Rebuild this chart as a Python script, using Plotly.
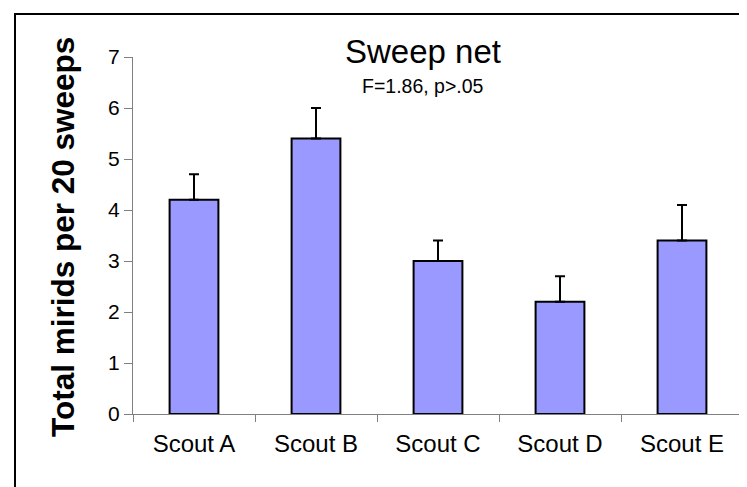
import plotly.graph_objects as go

scouts = ["Scout A", "Scout B", "Scout C", "Scout D", "Scout E"]
mean_mirids = [4.2, 5.4, 3.0, 2.2, 3.4]
error_plus = [0.5, 0.6, 0.4, 0.5, 0.7]
y_ticks = [0, 1, 2, 3, 4, 5, 6, 7]

title_text = "Sweep net"
stat_text = "F=1.86, p>.05"
y_title = "Total mirids per 20 sweeps"

W, H = 747, 487
L, R, T, B = 125, 12, 49, 81
pw = W - L - R
ph = H - T - B

def px_x(p):
    return (p - L) / pw

def px_y(p):
    return (H - B - p) / ph

FONT = "Liberation Sans, Arial, sans-serif"

fig = go.Figure()
fig.add_trace(go.Bar(
    x=scouts,
    y=mean_mirids,
    width=0.4,
    marker=dict(color="#9999FF", line=dict(color="black", width=2)),
    error_y=dict(type="data", symmetric=False, array=error_plus,
                 arrayminus=[0] * len(error_plus),
                 color="black", thickness=2, width=5),
))

fig.update_layout(
    width=W, height=H,
    margin=dict(l=L, r=R, t=T, b=B),
    plot_bgcolor="white", paper_bgcolor="white",
    showlegend=False,
    font=dict(family=FONT, color="black"),
    xaxis=dict(
        type="category",
        tickson="boundaries",
        ticks="outside", ticklen=7, tickcolor="#808080", tickwidth=1,
        showline=True, linecolor="#808080", linewidth=1,
        showgrid=False, zeroline=False,
        ticklabelstandoff=8,
        tickfont=dict(size=24, family=FONT, color="black"),
    ),
    yaxis=dict(
        range=[0, 7], tickvals=y_ticks,
        ticks="outside", ticklen=8, tickcolor="#808080", tickwidth=1,
        showline=True, linecolor="#808080", linewidth=1,
        showgrid=False, zeroline=False,
        tickfont=dict(size=21, family=FONT, color="black"),
    ),
    annotations=[
        dict(text=title_text, xref="paper", yref="paper",
             x=px_x(414.5), y=px_y(43.5), xanchor="center", yanchor="middle",
             showarrow=False, font=dict(size=33, family=FONT, color="black")),
        dict(text=stat_text, xref="paper", yref="paper",
             x=px_x(415), y=px_y(78), xanchor="center", yanchor="middle",
             showarrow=False, font=dict(size=19.5, family=FONT, color="black")),
        dict(text="<b>" + y_title + "</b>", xref="paper", yref="paper",
             x=px_x(55), y=px_y(229), xanchor="center", yanchor="middle",
             textangle=-90,
             showarrow=False, font=dict(size=31.5, family=FONT, color="black")),
    ],
    shapes=[
        dict(type="rect", xref="paper", yref="paper",
             x0=px_x(7), x1=px_x(W + 20), y0=px_y(H + 20), y1=px_y(6),
             line=dict(color="black", width=2), fillcolor="rgba(0,0,0,0)",
             layer="below"),
    ],
)

fig.write_html("out.html")
